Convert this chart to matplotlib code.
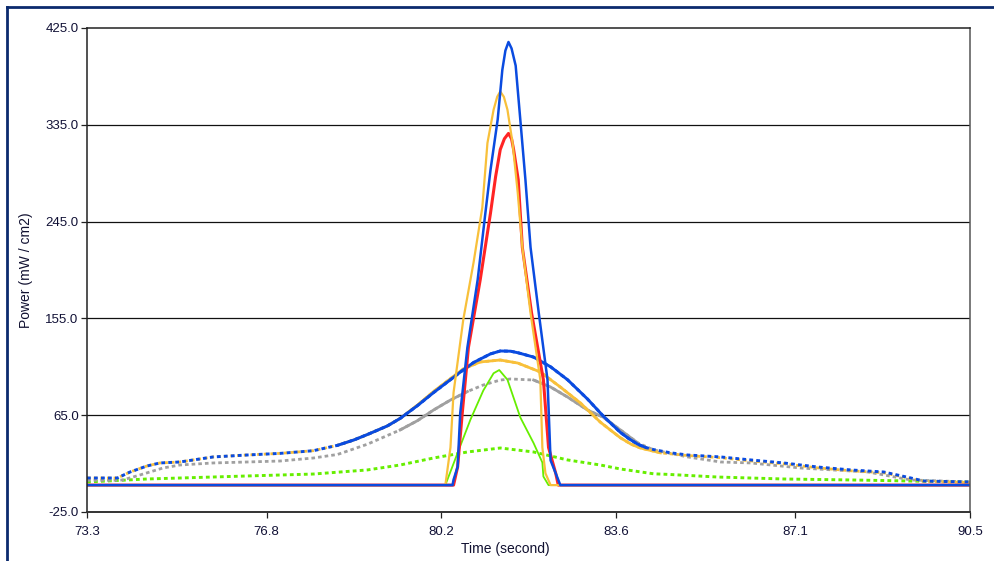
import numpy as np
import matplotlib
matplotlib.use("Agg")
import matplotlib.pyplot as plt
from matplotlib.lines import Line2D

# time axis (s) and power (mW/cm2)
x_ticks = [73.3, 76.8, 80.2, 83.6, 87.1, 90.5]
y_ticks = [-25.0, 65.0, 155.0, 245.0, 335.0, 425.0]

# narrow pulses
blue_n_x = [73.3, 80.42, 80.44, 80.52, 80.57, 80.71, 80.91, 81.06, 81.16, 81.30, 81.39,
            81.45, 81.51, 81.57, 81.65, 81.74, 81.84, 81.94, 82.10, 82.27, 82.33, 82.43,
            82.52, 90.5]
blue_n_y = [0, 0, 5, 17, 67, 128, 191, 253, 293, 340, 386,
            404, 412, 406, 390, 340, 284, 221, 160, 98, 23, 11,
            0, 0]

yellow_n_x = [73.3, 80.28, 80.38, 80.44, 80.63, 80.83, 81.00, 81.10, 81.22, 81.29, 81.35,
              81.42, 81.49, 81.59, 81.69, 81.78, 81.94, 82.13, 82.17, 82.23, 82.33, 90.5]
yellow_n_y = [0, 0, 35, 86, 154, 207, 258, 318, 349, 361, 366,
              361, 349, 318, 272, 221, 160, 98, 35, 11, 0, 0]

red_n_x = [73.3, 80.44, 80.52, 80.61, 80.73, 80.96, 81.16, 81.26, 81.35, 81.43, 81.51,
           81.57, 81.61, 81.70, 81.78, 81.96, 82.19, 82.29, 82.43, 82.48, 90.5]
red_n_y = [0, 0, 17, 67, 128, 191, 253, 287, 312, 322, 327,
           322, 312, 284, 221, 160, 98, 35, 11, 0, 0]

green_n_x = [73.3, 80.28, 80.52, 80.77, 81.02, 81.22, 81.33, 81.49, 81.74, 82.00,
             82.17, 82.19, 82.29, 90.5]
green_n_y = [0, 0, 30, 61, 88, 104, 107, 98, 63, 39, 21, 8, 0, 0]

# wide pulses
blue_w_x = [73.30, 73.89, 74.14, 74.47, 74.72, 75.11, 75.76, 76.42, 77.06, 77.71,
            78.18, 78.50, 78.76, 79.15, 79.40, 79.74, 80.05, 80.38, 80.57, 80.83,
            81.16, 81.35, 81.55, 81.70, 82.00, 82.33, 82.66, 83.05, 83.36, 83.69,
            83.86, 84.03, 84.18, 84.34, 84.67, 85.00, 85.64, 86.23, 86.87, 87.54,
            88.18, 88.82, 89.35, 89.60, 90.50]
blue_w_y = [6.6, 6.6, 12.2, 17.8, 20.6, 21.5, 26.2, 28.0, 29.5, 32.0,
            37.0, 42.0, 47.0, 55.0, 62.0, 74.0, 86.0, 98.0, 105.0, 114.0,
            122.0, 124.7, 124.5, 123.0, 119.0, 110.0, 98.0, 80.0, 64.0, 49.0,
            43.0, 38.0, 35.0, 33.0, 30.0, 28.0, 26.2, 23.4, 20.6, 16.8,
            14.1, 12.2, 6.6, 3.8, 2.9]

yellow_w_x = [73.30, 73.89, 74.14, 74.47, 74.72, 75.11, 75.76, 76.42, 77.06, 77.71,
              78.18, 78.50, 78.76, 79.15, 79.40, 79.74, 80.05, 80.38, 80.63, 80.96,
              81.35, 81.69, 82.13, 82.52, 82.91, 83.30, 83.69, 83.90, 84.08, 84.47,
              85.00, 85.64, 86.23, 86.87, 87.54, 88.18, 88.82, 89.35, 89.60, 90.50]
yellow_w_y = [6.6, 6.6, 12.2, 17.8, 20.6, 21.5, 26.2, 28.0, 29.5, 32.0,
              37.0, 42.0, 47.0, 55.0, 62.0, 74.5, 87.0, 99.0, 108.0, 114.5,
              116.3, 113.5, 105.2, 91.2, 76.4, 58.5, 44.0, 38.0, 34.5, 30.0,
              27.5, 25.5, 22.5, 19.8, 16.0, 13.3, 11.5, 6.0, 3.5, 2.5]

gray_w_x = [73.30, 73.89, 74.00, 74.33, 74.78, 75.11, 75.76, 76.42, 77.06, 77.71,
            78.18, 78.76, 79.40, 79.74, 80.05, 80.38, 80.71, 81.02, 81.35, 81.55,
            82.00, 82.33, 82.66, 83.05, 83.36, 83.69, 84.03, 84.34, 85.00, 85.64,
            86.23, 87.20, 88.51, 89.35, 90.50]
gray_w_y = [4.5, 4.5, 4.8, 9.4, 15.9, 18.7, 20.6, 21.5, 22.4, 25.2,
            28.5, 38.0, 51.3, 60.0, 69.8, 79.1, 87.0, 93.1, 97.7, 98.7,
            97.7, 91.2, 81.9, 69.8, 63.0, 51.3, 39.2, 32.7, 26.2, 21.5,
            20.6, 15.9, 12.2, 4.8, 2.9]

green_w_x = [73.30, 74.47, 75.11, 76.42, 77.71, 78.76, 79.40, 80.05, 80.38, 80.71,
             81.35, 82.00, 82.66, 83.30, 83.69, 84.34, 84.61, 85.59, 86.87, 88.18,
             89.35, 90.50]
green_w_y = [2.9, 5.7, 6.6, 8.5, 10.3, 14.1, 18.7, 25.2, 28.0, 30.8,
             34.5, 30.8, 23.4, 18.7, 15.0, 10.5, 10.0, 7.5, 5.7, 4.8,
             3.8, 2.9]

BLUE = "#0a4be0"
YELLOW = "#f8c03a"
RED = "#ff2424"
GREEN = "#66ee00"
GRAY = "#a0a0a0"
DOT = (0, (1.3, 1.1))

plt.rcParams['font.family'] = ['Liberation Sans', 'DejaVu Sans']

fig = plt.figure(figsize=(9.95, 5.61), dpi=100)
ax = fig.add_axes([87/995, 1 - 512/561, (970-87)/995, (512-28)/561])


def wide(xs, ys, color, lw, solid=()):
    xs = np.array(xs)
    ys = np.array(ys)
    ax.plot(xs, ys, color=color, lw=lw, ls=DOT, dash_capstyle='butt')
    for a, b in solid:
        m = (xs >= a) & (xs <= b)
        ax.plot(xs[m], ys[m], color=color, lw=lw, solid_joinstyle='round')


wide(green_w_x, green_w_y, GREEN, 2.1)
wide(gray_w_x, gray_w_y, GRAY, 2.0, solid=[(79.1, 80.8), (82.0, 84.1)])
wide(yellow_w_x, yellow_w_y, YELLOW, 2.0, solid=[(78.1, 84.5)])
wide(blue_w_x, blue_w_y, BLUE, 2.1, solid=[(78.1, 84.2)])

ax.plot(green_n_x, green_n_y, color=GREEN, lw=1.3)
ax.plot(red_n_x, red_n_y, color=RED, lw=2.2)
ax.plot(yellow_n_x, yellow_n_y, color=YELLOW, lw=1.6)
ax.plot(blue_n_x, blue_n_y, color=BLUE, lw=1.8)

ax.set_xlim(73.3, 90.5)
ax.set_ylim(-25, 425)
ax.set_xticks(x_ticks)
ax.set_yticks(y_ticks)
ax.set_xticklabels(["%.1f" % v for v in x_ticks])
ax.set_yticklabels(["%.1f" % v for v in y_ticks])
for v in y_ticks[1:-1]:
    ax.axhline(v, color="#111111", lw=0.9, zorder=0.5)

for s in ax.spines.values():
    s.set_color("#222222")
    s.set_linewidth(1.1)
ax.spines['right'].set_color("#555555")
ax.spines['bottom'].set_color("#333333")
ax.spines['bottom'].set_linewidth(1.4)
ax.tick_params(direction='out', length=4, width=0.9, color="#222222",
               labelsize=9.5, labelcolor="#101035")
ax.tick_params(axis='y', pad=2)
ax.tick_params(axis='x', pad=6)
ax.set_xlabel("Time (second)", fontsize=10, color="#101030")
ax.xaxis.set_label_coords((505 - 87) / 883, -(542 - 512) / 484)
ax.set_ylabel("Power (mW / cm2)", fontsize=10, color="#101030")
ax.yaxis.set_label_coords(-(87 - 33) / 883, 0.5)

# outer frame
fig.add_artist(Line2D([7/995, 1], [1 - 7/561] * 2, color="#0b2a6e", lw=2,
                      transform=fig.transFigure))
fig.add_artist(Line2D([7/995] * 2, [0, 1 - 7/561], color="#0b2a6e", lw=2,
                      transform=fig.transFigure))

fig.savefig("out.png", dpi=100)
